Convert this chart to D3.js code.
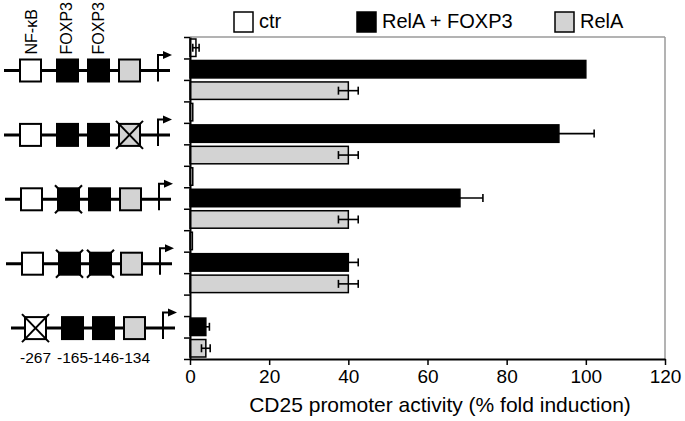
<!DOCTYPE html>
<html>
<head>
<meta charset="utf-8">
<script src="https://cdn.jsdelivr.net/npm/d3@7"></script>
<style>
  body { margin: 0; background: #fff; }
  text { font-family: Arial, "Liberation Sans", sans-serif; fill: #000; }
</style>
</head>
<body>
<div id="chart"></div>
<script>
// data
var constructs = ["wt", "mut -134", "mut -165", "mut -165/-146", "mut -267"];
var seriesNames = ["ctr", "RelA + FOXP3", "RelA"];
var seriesColors = ["#ffffff", "#000000", "#d3d3d3"];
var ctrValues = [1.5, 0.7, 0.7, 0.6, 0];
var ctrErrors = [0.8, 0, 0, 0, 0];
var relaFoxValues = [100, 93.2, 68.2, 40, 4];
var relaFoxErrors = [0, 8.9, 5.8, 2.5, 0.9];
var relaValues = [40, 40, 40, 40, 4];
var relaErrors = [2.5, 2.5, 2.5, 2.5, 1.1];
var xTicks = [0, 20, 40, 60, 80, 100, 120];

// promoter sites in diagram
var siteNames = ["NF-\u03baB", "FOXP3", "FOXP3", ""];
var sitePositions = ["-267", "-165", "-146", "-134"];
var siteColors = ["#ffffff", "#000000", "#000000", "#d3d3d3"];
var mutated = [[], [3], [1], [1, 2], [0]];

// set the dimensions
var W = 685, H = 421;
var margin = {top: 37, right: 20, bottom: 62, left: 190},
    width = W - margin.left - margin.right,
    height = H - margin.top - margin.bottom;

var svg = d3.select("#chart").append("svg")
    .attr("width", W)
    .attr("height", H);

var x = d3.scaleLinear().domain([0, 120]).range([margin.left, margin.left + width]);
var y = d3.scaleLinear().domain([0, 15]).range([margin.top, margin.top + height]);
var step = y(1) - y(0);

// flatten bars
var bars = [];
var allVals = [ctrValues, relaFoxValues, relaValues];
var allErrs = [ctrErrors, relaFoxErrors, relaErrors];
constructs.forEach(function(c, g) {
    for (var s = 0; s < 3; s++) {
        bars.push({group: g, series: s, slot: g * 3 + s, value: allVals[s][g], err: allErrs[s][g]});
    }
});

// frame (gray top / right)
svg.append("line")
    .attr("x1", x(0)).attr("x2", x(120))
    .attr("y1", y(0)).attr("y2", y(0))
    .attr("stroke", "#9a9a9a").attr("stroke-width", 1.5);
svg.append("line")
    .attr("x1", x(120)).attr("x2", x(120))
    .attr("y1", y(0)).attr("y2", y(15))
    .attr("stroke", "#9a9a9a").attr("stroke-width", 1.5);

// bars
svg.selectAll("rect.bar")
    .data(bars)
    .enter().append("rect")
    .attr("class", "bar")
    .attr("x", x(0))
    .attr("y", function(d) { return y(d.slot) + 2; })
    .attr("width", function(d) { return x(d.value) - x(0); })
    .attr("height", step - 4)
    .attr("fill", function(d) { return seriesColors[d.series]; })
    .attr("stroke", "#000")
    .attr("stroke-width", function(d) { return d.value > 0 ? 1.5 : 0; });

// error bars
var eb = svg.selectAll("g.err")
    .data(bars.filter(function(d) { return d.err > 0; }))
    .enter().append("g")
    .attr("class", "err")
    .attr("stroke", "#000")
    .attr("stroke-width", 1.6);
eb.append("line")
    .attr("x1", function(d) { return x(d.value - d.err); })
    .attr("x2", function(d) { return x(d.value + d.err); })
    .attr("y1", function(d) { return y(d.slot + 0.5); })
    .attr("y2", function(d) { return y(d.slot + 0.5); });
eb.append("line")
    .attr("x1", function(d) { return x(d.value + d.err); })
    .attr("x2", function(d) { return x(d.value + d.err); })
    .attr("y1", function(d) { return y(d.slot + 0.5) - 4; })
    .attr("y2", function(d) { return y(d.slot + 0.5) + 4; });
eb.append("line")
    .attr("x1", function(d) { return x(d.value - d.err); })
    .attr("x2", function(d) { return x(d.value - d.err); })
    .attr("y1", function(d) { return y(d.slot + 0.5) - 4; })
    .attr("y2", function(d) { return y(d.slot + 0.5) + 4; });

// Add the X Axis
var xAxis = svg.append("g")
    .attr("transform", "translate(0," + y(15) + ")")
    .call(d3.axisBottom(x).tickValues(xTicks).tickSize(6).tickPadding(5).tickSizeOuter(0));
xAxis.select(".domain").attr("stroke-width", 2);
xAxis.selectAll(".tick line").attr("stroke-width", 1.5);
xAxis.selectAll("text").style("font-size", "19px").style("font-family", "Arial, 'Liberation Sans', sans-serif");

// Add the Y Axis (slot boundaries)
var yAxis = svg.append("g")
    .attr("transform", "translate(" + x(0) + ",0)")
    .call(d3.axisLeft(y).tickValues(d3.range(16)).tickFormat("").tickSize(6).tickSizeOuter(0));
yAxis.select(".domain").attr("stroke-width", 2);
yAxis.selectAll(".tick line").attr("stroke-width", 1.5);

// x label
svg.append("text")
    .attr("x", 440)
    .attr("y", 412)
    .attr("text-anchor", "middle")
    .style("font-size", "21px")
    .text("CD25 promoter activity (% fold induction)");

// legend
var legendX = [234, 357, 555];
var lg = svg.selectAll("g.legend")
    .data(seriesNames)
    .enter().append("g")
    .attr("class", "legend")
    .attr("transform", function(d, i) { return "translate(" + legendX[i] + ",12)"; });
lg.append("rect")
    .attr("width", 19).attr("height", 20)
    .attr("fill", function(d, i) { return seriesColors[i]; })
    .attr("stroke", "#000").attr("stroke-width", 1.5);
lg.append("text")
    .attr("x", 25).attr("y", 16)
    .style("font-size", "20px")
    .text(function(d) { return d; });

// promoter diagrams
var siteX = [20, 57, 88, 119];
var shiftX = [0, 0, 1, 2, 5];
var boxW = 21, boxH = 22;

constructs.forEach(function(c, g) {
    var cy = y(g * 3 + 1.5) + 1.3;
    var sx = shiftX[g];
    var dg = svg.append("g").attr("transform", "translate(" + sx + "," + cy + ")");

    // main line
    dg.append("line")
        .attr("x1", g == 4 ? 6 : 4).attr("x2", 170)
        .attr("y1", 0).attr("y2", 0)
        .attr("stroke", "#000").attr("stroke-width", 3);

    // boxes
    siteX.forEach(function(bx, k) {
        dg.append("rect")
            .attr("x", bx).attr("y", -boxH / 2)
            .attr("width", boxW).attr("height", boxH)
            .attr("fill", siteColors[k])
            .attr("stroke", "#000").attr("stroke-width", 2);
        if (mutated[g].indexOf(k) >= 0) {
            var o = 3;
            dg.append("line")
                .attr("x1", bx - o).attr("y1", -boxH / 2 - o)
                .attr("x2", bx + boxW + o).attr("y2", boxH / 2 + o)
                .attr("stroke", "#000").attr("stroke-width", 2);
            dg.append("line")
                .attr("x1", bx + boxW + o).attr("y1", -boxH / 2 - o)
                .attr("x2", bx - o).attr("y2", boxH / 2 + o)
                .attr("stroke", "#000").attr("stroke-width", 2);
        }
    });

    // transcription start arrow
    dg.append("path")
        .attr("d", "M158,11V-15.5H164")
        .attr("fill", "none")
        .attr("stroke", "#000").attr("stroke-width", 2);
    dg.append("path")
        .attr("d", "M163,-19.5L172,-15.5L163,-11.5Z")
        .attr("fill", "#000");

    // site names above first construct
    if (g == 0) {
        var nameX = [37, 72, 104];
        siteNames.forEach(function(n, k) {
            if (!n) return;
            dg.append("text")
                .attr("transform", "translate(" + nameX[k] + "," + (-16) + ") rotate(-90)")
                .style("font-size", "16px")
                .text(n);
        });
    }
    // positions below last construct
    if (g == constructs.length - 1) {
        siteX.forEach(function(bx, k) {
            dg.append("text")
                .attr("x", bx + boxW / 2).attr("y", 35)
                .attr("text-anchor", "middle")
                .style("font-size", "15.5px")
                .text(sitePositions[k]);
        });
    }
});
</script>
</body>
</html>
